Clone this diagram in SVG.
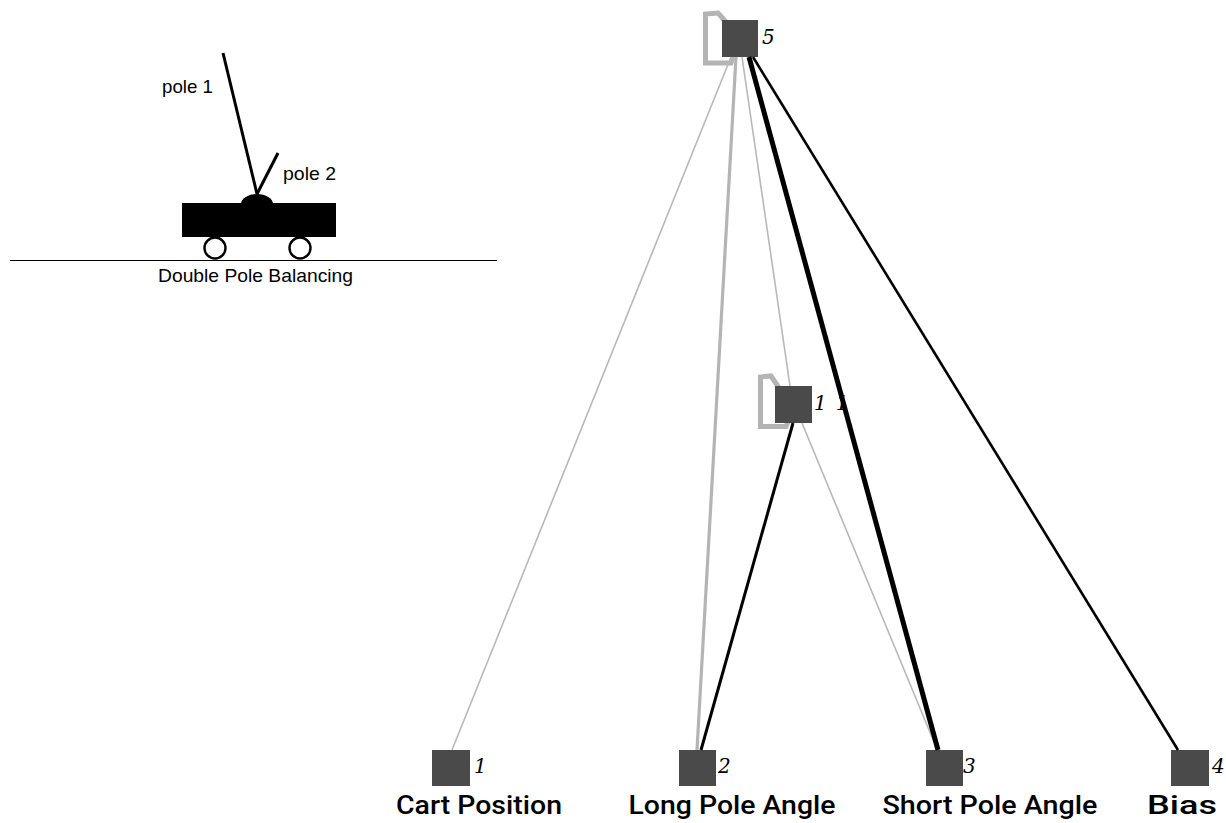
<svg xmlns="http://www.w3.org/2000/svg" width="1226" height="823" viewBox="0 0 1226 823">
  <style>
    .node rect { fill: #4a4a4a; }
    .idx { font-family: "DejaVu Serif", serif; font-style: italic; font-size: 20px; fill: #000; }
    .name { font-family: Roboto, "Liberation Sans", sans-serif; font-weight: 500; font-size: 26px; fill: #000; text-anchor: middle; }
    .cap { font-family: "Liberation Sans", Arial, sans-serif; font-size: 18.5px; fill: #000; }
    .loop { fill: none; stroke: #b4b4b4; stroke-width: 5; stroke-linejoin: miter; }
    .g-thin { stroke: #b8b8b8; stroke-width: 1.6; fill: none; }
    .g-thick { stroke: #b4b4b4; stroke-width: 3.2; fill: none; }
    .b-mid { stroke: #000; stroke-width: 2.6; fill: none; }
    .b-heavy { stroke: #000; stroke-width: 3; fill: none; }
    .b-thick { stroke: #000; stroke-width: 5; fill: none; }
  </style>

  <rect width="1226" height="823" fill="#fff"/>

  <!-- cart with two poles -->
  <g id="cart">
    <line x1="10" y1="260.5" x2="497" y2="260.5" stroke="#000" stroke-width="1.2"/>
    <line x1="223" y1="53" x2="257" y2="194" stroke="#000" stroke-width="3"/>
    <line x1="257" y1="194" x2="278" y2="153" stroke="#000" stroke-width="3"/>
    <ellipse cx="257" cy="204" rx="16" ry="10" fill="#000"/>
    <rect x="182" y="203" width="154" height="34" fill="#000"/>
    <circle cx="215" cy="248" r="10.5" fill="#fff" stroke="#000" stroke-width="2.4"/>
    <circle cx="300" cy="248" r="10.5" fill="#fff" stroke="#000" stroke-width="2.4"/>
    <text class="cap" x="162" y="93" textLength="51" lengthAdjust="spacingAndGlyphs">pole 1</text>
    <text class="cap" x="283" y="180" textLength="53" lengthAdjust="spacingAndGlyphs">pole 2</text>
    <text class="cap" x="158" y="282" textLength="195" lengthAdjust="spacingAndGlyphs">Double Pole Balancing</text>
  </g>

  <!-- network nodes -->
  <g id="node-5" class="node">
    <path class="loop" d="M726 22 L718 13 L705.5 14 L705.5 63 L731 63 L733 57"/>
    <rect x="722" y="20" width="36" height="37"/>
    <text class="idx" x="762" y="44">5</text>
  </g>
  <g id="node-11" class="node">
    <path class="loop" d="M779 388 L771 376 L760.5 377 L760.5 426.5 L786 426.5 L788 422"/>
    <rect x="775" y="386" width="37" height="37"/>
    <text class="idx" x="814" y="410" letter-spacing="9">11</text>
  </g>
  <g id="node-1" class="node">
    <rect x="432" y="750" width="38" height="36"/>
    <text class="idx" x="474" y="773">1</text>
    <text class="name" x="479" y="814" textLength="166" lengthAdjust="spacingAndGlyphs">Cart Position</text>
  </g>
  <g id="node-2" class="node">
    <rect x="679" y="750" width="37" height="36"/>
    <text class="idx" x="718" y="773">2</text>
    <text class="name" x="732" y="814" textLength="207" lengthAdjust="spacingAndGlyphs">Long Pole Angle</text>
  </g>
  <g id="node-3" class="node">
    <rect x="926" y="750" width="37" height="36"/>
    <text class="idx" x="963" y="773">3</text>
    <text class="name" x="990" y="814" textLength="215" lengthAdjust="spacingAndGlyphs">Short Pole Angle</text>
  </g>
  <g id="node-4" class="node">
    <rect x="1171" y="750" width="38" height="36"/>
    <text class="idx" x="1212" y="773">4</text>
    <text class="name" x="1182" y="814" font-weight="400" textLength="70" lengthAdjust="spacingAndGlyphs">Bias</text>
  </g>

  <!-- weighted links -->
  <g id="connectors">
    <line class="g-thin" x1="731" y1="57" x2="452" y2="750"/>
    <line class="g-thick" x1="736" y1="57" x2="697" y2="750"/>
    <line class="g-thin" x1="742" y1="57" x2="790" y2="386"/>
    <line class="g-thin" x1="802" y1="423" x2="934" y2="742"/>
    <line class="b-thick" x1="749" y1="57" x2="938" y2="750"/>
    <line class="b-mid" x1="753" y1="57" x2="1178" y2="750"/>
    <line class="b-heavy" x1="793" y1="423" x2="701" y2="750"/>
  </g>
</svg>
